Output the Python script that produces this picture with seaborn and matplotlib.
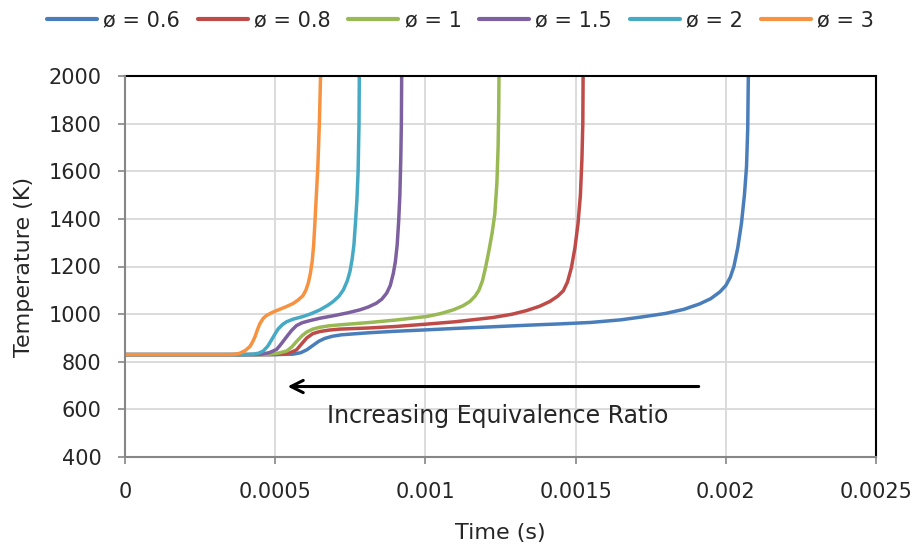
import numpy as np
import pandas as pd
import matplotlib
matplotlib.use("Agg")
import matplotlib.pyplot as plt
import seaborn as sns

# ---- data (time in ms, temperature in K) ----
labels = ["ø = 0.6", "ø = 0.8", "ø = 1", "ø = 1.5", "ø = 2", "ø = 3"]
colors = ["#4A7EBB", "#BE4B48", "#98B954", "#7D60A0", "#46AAC5", "#F69240"]

t_06 = [0, 0.50, 0.56, 0.585, 0.605, 0.625, 0.645, 0.665, 0.69, 0.72, 0.76, 0.815, 0.9, 1.004, 1.1,
        1.226, 1.35, 1.448, 1.55, 1.65, 1.72, 1.80, 1.86, 1.913, 1.95, 1.98, 2.0, 2.015, 2.027,
        2.04, 2.052, 2.062, 2.069, 2.073, 2.075]
T_06 = [830, 830, 832, 838, 850, 868, 886, 898, 907, 913, 917, 922, 928, 934, 940,
        947, 954, 959, 965, 976, 988, 1003, 1020, 1043, 1065, 1093, 1120, 1155, 1200,
        1280, 1380, 1500, 1620, 1780, 2000]

t_08 = [0, 0.48, 0.53, 0.55, 0.571, 0.59, 0.605, 0.625, 0.649, 0.68, 0.715, 0.815, 0.9, 1.004, 1.1,
        1.226, 1.29, 1.337, 1.38, 1.414, 1.44, 1.459, 1.473, 1.486, 1.498, 1.508, 1.516, 1.521,
        1.524, 1.525]
T_08 = [830, 830, 832, 838, 850, 878, 900, 918, 927, 933, 937, 942, 948, 958, 968,
        986, 1000, 1015, 1033, 1053, 1075, 1098, 1135, 1195, 1280, 1380, 1500, 1650,
        1800, 2000]

t_10 = [0, 0.45, 0.483, 0.51, 0.538, 0.555, 0.571, 0.59, 0.605, 0.625, 0.649, 0.68, 0.715, 0.815,
        0.9, 1.004, 1.05, 1.093, 1.125, 1.148, 1.165, 1.178, 1.19, 1.201, 1.212, 1.222, 1.231,
        1.238, 1.242, 1.244, 1.245]
T_10 = [830, 830, 832, 836, 845, 862, 885, 910, 925, 937, 945, 951, 955, 965,
        975, 990, 1002, 1018, 1035, 1053, 1075, 1100, 1140, 1200, 1270, 1340, 1420,
        1550, 1700, 1850, 2000]

t_15 = [0, 0.43, 0.455, 0.48, 0.505, 0.52, 0.538, 0.555, 0.571, 0.59, 0.616, 0.65, 0.693, 0.74,
        0.782, 0.81, 0.837, 0.855, 0.871, 0.883, 0.893, 0.9, 0.906, 0.911, 0.915, 0.918, 0.92, 0.921]
T_15 = [830, 830, 832, 838, 852, 875, 905, 932, 952, 964, 973, 983, 993, 1005,
        1018, 1030, 1046, 1063, 1088, 1120, 1170, 1220, 1290, 1390, 1500, 1650, 1800, 2000]

t_20 = [0, 0.40, 0.427, 0.445, 0.46, 0.475, 0.488, 0.50, 0.51, 0.524, 0.538, 0.56, 0.593, 0.62,
        0.649, 0.675, 0.693, 0.712, 0.727, 0.74, 0.749, 0.756, 0.762, 0.767, 0.772, 0.776, 0.779, 0.780]
T_20 = [830, 830, 832, 836, 845, 865, 892, 918, 938, 956, 968, 979, 990, 1002,
        1018, 1037, 1053, 1075, 1102, 1140, 1180, 1230, 1290, 1380, 1480, 1600, 1800, 2000]

t_30 = [0, 0.35, 0.37, 0.383, 0.40, 0.416, 0.425, 0.433, 0.441, 0.449, 0.46, 0.472, 0.49, 0.505,
        0.538, 0.56, 0.575, 0.592, 0.602, 0.61, 0.617, 0.623, 0.628, 0.632, 0.637, 0.642, 0.647, 0.651]
T_30 = [830, 830, 832, 836, 847, 864, 884, 906, 935, 960, 982, 995, 1007, 1015,
        1032, 1045, 1058, 1077, 1100, 1130, 1170, 1220, 1290, 1380, 1500, 1620, 1800, 2000]

x_ticks = [0, 0.0005, 0.001, 0.0015, 0.002, 0.0025]
x_ticklabels = ["0", "0.0005", "0.001", "0.0015", "0.002", "0.0025"]
y_ticks = [400, 600, 800, 1000, 1200, 1400, 1600, 1800, 2000]

arrow_start = (0.001919, 696)
arrow_end = (0.000532, 696)
annot_text = "Increasing Equivalence Ratio"
annot_pos = (0.001241, 572)

series_t = [t_06, t_08, t_10, t_15, t_20, t_30]
series_T = [T_06, T_08, T_10, T_15, T_20, T_30]

frames = []
for lab, ts, Ts in zip(labels, series_t, series_T):
    frames.append(pd.DataFrame({"Time": np.array(ts) * 1e-3, "Temp": Ts, "phi": lab}))
df = pd.concat(frames, ignore_index=True)

sns.set_theme(style="white")
plt.rcParams["font.family"] = ["DejaVu Sans"]

fig = plt.figure(figsize=(9.17, 5.48), dpi=100)
ax = fig.add_axes([125 / 917, 1 - 457 / 548, 751 / 917, 381 / 548])

sns.lineplot(data=df, x="Time", y="Temp", hue="phi", hue_order=labels,
             palette=colors, estimator=None, sort=False, units="phi",
             linewidth=2.5, ax=ax, legend=True)
for ln in ax.lines:
    ln.set_solid_joinstyle("round")
    ln.set_solid_capstyle("round")

ax.set_xlim(0, 0.0025)
ax.set_ylim(400, 2000)
ax.set_xticks(x_ticks)
ax.set_xticklabels(x_ticklabels)
ax.set_yticks(y_ticks)
ax.grid(True, color="#d9d9d9", linewidth=1.3)
ax.set_axisbelow(True)

for s in ["top", "right"]:
    ax.spines[s].set_color("black")
    ax.spines[s].set_linewidth(1.5)
for s in ["left", "bottom"]:
    ax.spines[s].set_color("#868686")
    ax.spines[s].set_linewidth(1.5)
    ax.spines[s].set_zorder(5)

ax.tick_params(axis="both", which="major", direction="out", length=5,
               width=1.2, color="#868686", labelsize=15, left=True, bottom=True)
ax.tick_params(axis="x", pad=13)
ax.tick_params(axis="y", pad=12)
ax.set_xlabel("Time (s)", fontsize=16, labelpad=15)
ax.set_ylabel("Temperature (K)", fontsize=16, labelpad=10)

ax.annotate("", xy=arrow_end, xytext=arrow_start,
            arrowprops=dict(arrowstyle="->", color="black", lw=2.2,
                            mutation_scale=22))
ax.text(annot_pos[0], annot_pos[1], annot_text, fontsize=17, ha="center", va="center")

handles, labs = ax.get_legend_handles_labels()
ax.get_legend().remove()
for h in handles:
    h.set_linewidth(3)
fig.legend(handles, labs, loc="center", bbox_to_anchor=(0.502, 1 - 20 / 548),
           ncol=6, frameon=False, fontsize=15, handlelength=2.4,
           handletextpad=0.3, columnspacing=0.85)

fig.savefig("out.png", dpi=100)
